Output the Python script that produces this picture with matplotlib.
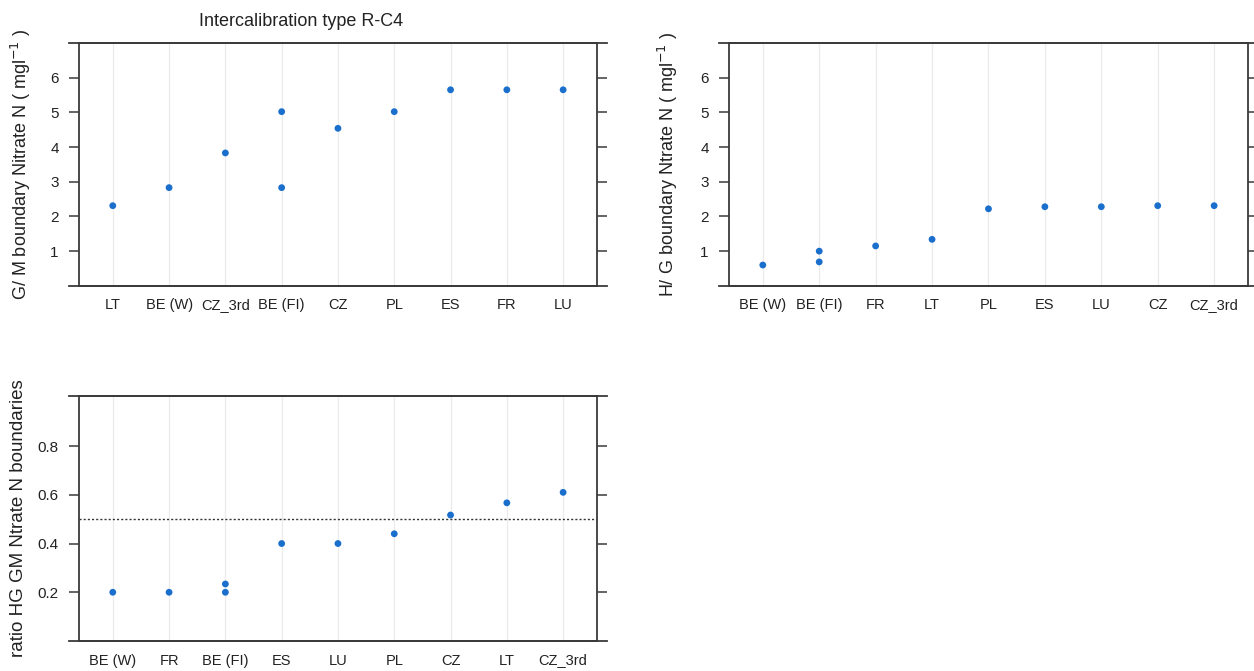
import numpy as np
import matplotlib
matplotlib.use("Agg")
from matplotlib import pyplot as plt

plt.rcParams["font.family"] = ["Liberation Sans", "DejaVu Sans"]

# G/M boundaries
gm_countries = ["LT", "BE (W)", "CZ_3rd", "BE (FI)", "CZ", "PL", "ES", "FR", "LU"]
gm_x = ["LT", "BE (W)", "CZ_3rd", "BE (FI)", "BE (FI)", "CZ", "PL", "ES", "FR", "LU"]
gm_values = [2.31, 2.83, 3.83, 5.02, 2.83, 4.54, 5.02, 5.65, 5.65, 5.65]

# H/G boundaries
hg_countries = ["BE (W)", "BE (FI)", "FR", "LT", "PL", "ES", "LU", "CZ", "CZ_3rd"]
hg_x = ["BE (W)", "BE (FI)", "BE (FI)", "FR", "LT", "PL", "ES", "LU", "CZ", "CZ_3rd"]
hg_values = [0.60, 1.00, 0.69, 1.15, 1.34, 2.22, 2.28, 2.28, 2.31, 2.31]

# ratio HG / GM
ratio_countries = ["BE (W)", "FR", "BE (FI)", "ES", "LU", "PL", "CZ", "LT", "CZ_3rd"]
ratio_x = ["BE (W)", "FR", "BE (FI)", "BE (FI)", "ES", "LU", "PL", "CZ", "LT", "CZ_3rd"]
ratio_values = [0.20, 0.20, 0.20, 0.234, 0.40, 0.40, 0.44, 0.517, 0.567, 0.61]

gm_ticks = [1, 2, 3, 4, 5, 6]
ratio_ticks = [0.2, 0.4, 0.6, 0.8]
ratio_ref = 0.5

dot_col = "#1a6fcc"
frame_col = "#3a3a3a"
text_col = "#222222"

fig = plt.figure(figsize=(12.54, 6.71), dpi=100)


def panel(rect, countries, xs, ys, yticks, ylim, ylabel, labelx, labelsize):
    ax = fig.add_axes(rect)
    pos = {c: i + 1 for i, c in enumerate(countries)}
    for i in range(len(countries)):
        ax.axvline(i + 1, color="#ebebeb", lw=0.9, zorder=0)
    ax.scatter([pos[c] for c in xs], ys, s=24, color=dot_col, edgecolors="none", zorder=3)
    ax.set_xlim(0.4, len(countries) + 0.6)
    ax.set_ylim(*ylim)
    ax.set_xticks(range(1, len(countries) + 1))
    ax.set_xticklabels(countries)
    ax.set_yticks(yticks)
    ax.set_yticklabels([f"{t:g}" for t in yticks])
    ax.tick_params(axis="x", length=0, pad=9, labelsize=10.5, colors=text_col)
    ax.tick_params(axis="y", direction="out", length=7, width=1.1, pad=7.5,
                   labelsize=11, colors=text_col, right=True, color=frame_col)
    for s in ax.spines.values():
        s.set_color(frame_col)
        s.set_linewidth(1.3)
    # axis lines stick out a little past the corners
    for yy in (0, 1):
        ax.plot([-0.02, 1.02], [yy, yy], transform=ax.transAxes, color=frame_col,
                lw=1.3, clip_on=False)
    ax.set_ylabel(ylabel, fontsize=labelsize, color=text_col)
    ax.yaxis.set_label_coords(labelx, 0.5)
    return ax


ax1 = panel([0.063, 0.574, 0.413, 0.362], gm_countries, gm_x, gm_values, gm_ticks,
            (0, 7.0), "G/ M boundary Nitrate N ( mgl$^{-1}$ )", -0.088, 13)
fig.text(301 / 1254, 1 - 22 / 671, "Intercalibration type R-C4", fontsize=13,
         color=text_col, ha="center", va="center")

ax2 = panel([0.5813, 0.574, 0.4139, 0.362], hg_countries, hg_x, hg_values, gm_ticks,
            (0, 7.0), "H/ G boundary Ntrate N ( mgl$^{-1}$ )", -0.095, 13)

ax3 = panel([0.063, 0.0447, 0.413, 0.365], ratio_countries, ratio_x, ratio_values,
            ratio_ticks, (0, 1.005), "ratio HG GM Ntrate N boundaries", -0.1, 13.5)
ax3.axhline(ratio_ref, color="#333333", lw=1.0, ls=(0, (1.5, 1.5)), zorder=2)

fig.savefig("out.png", dpi=100)
